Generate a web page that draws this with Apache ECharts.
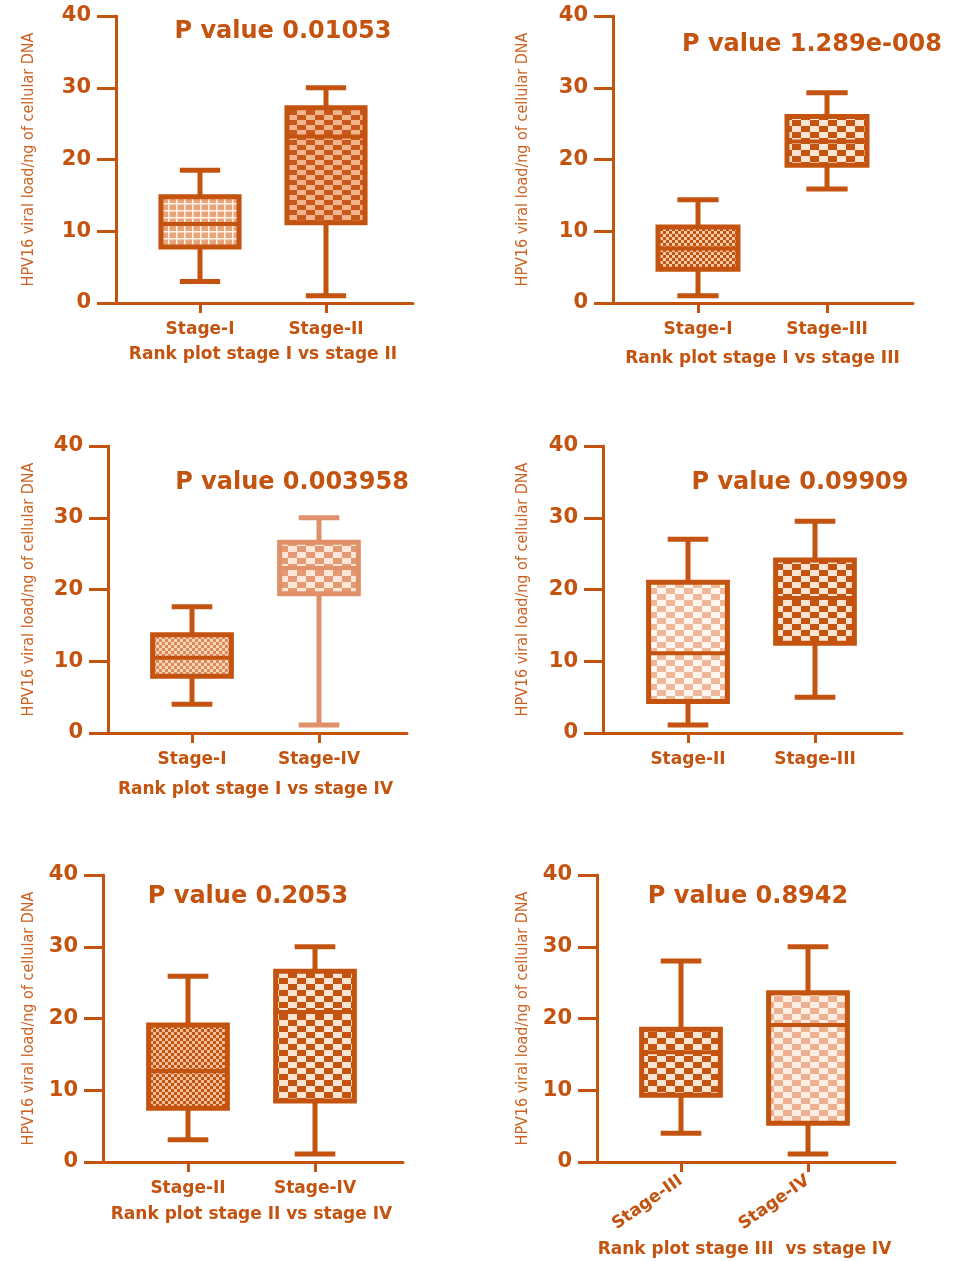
<!DOCTYPE html>
<html>
<head>
<meta charset="utf-8">
<script src="https://cdn.jsdelivr.net/npm/echarts@6/dist/echarts.min.js"></script>
<style>
html,body{margin:0;padding:0;background:#fff;}
#chart{width:958px;height:1261px;}
</style>
</head>
<body>
<div id="chart"></div>
<script>
// ---------- DATA (min, Q1, median, Q3, max) ----------
const titles = ['P value 0.01053', 'P value 1.289e-008', 'P value 0.003958', 'P value 0.09909', 'P value 0.2053', 'P value 0.8942'];
const xAxisNames = ['Rank plot stage I vs stage II', 'Rank plot stage I vs stage III', 'Rank plot stage I vs stage IV', '', 'Rank plot stage II vs stage IV', 'Rank plot stage III  vs stage IV'];
const yAxisName = 'HPV16 viral load/ng of cellular DNA';
const yTicks = [0, 10, 20, 30, 40];

const cats1 = ['Stage-I', 'Stage-II'];
const cats2 = ['Stage-I', 'Stage-III'];
const cats3 = ['Stage-I', 'Stage-IV'];
const cats4 = ['Stage-II', 'Stage-III'];
const cats5 = ['Stage-II', 'Stage-IV'];
const cats6 = ['Stage-III', 'Stage-IV'];

const p1StageI   = [3.0, 7.8, 11.0, 14.8, 18.5];
const p1StageII  = [1.0, 11.2, 23.2, 27.2, 30.0];
const p2StageI   = [1.0, 4.7, 7.6, 10.6, 14.4];
const p2StageIII = [15.9, 19.2, 22.5, 26.0, 29.3];
const p3StageI   = [4.0, 7.9, 10.5, 13.7, 17.6];
const p3StageIV  = [1.1, 19.4, 23.0, 26.6, 30.0];
const p4StageII  = [1.1, 4.4, 11.1, 21.0, 27.0];
const p4StageIII = [5.0, 12.5, 18.8, 24.1, 29.5];
const p5StageII  = [3.1, 7.5, 12.7, 19.1, 25.9];
const p5StageIV  = [1.1, 8.5, 20.9, 26.6, 30.0];
const p6StageIII = [4.0, 9.3, 15.3, 18.5, 28.0];
const p6StageIV  = [1.1, 5.4, 19.1, 23.6, 30.0];

// ---------- STYLE ----------
const MAIN = '#C4530F';
const LIGHT = '#E0916A';
const FONT = "'DejaVu Sans', sans-serif";
const NARROW = "'Liberation Sans Narrow', 'DejaVu Sans Condensed', 'Liberation Sans', sans-serif";

function checker(w, h, a, b) {
  const c = document.createElement('canvas');
  c.width = 2 * w; c.height = 2 * h;
  const g = c.getContext('2d');
  g.fillStyle = b; g.fillRect(0, 0, 2 * w, 2 * h);
  g.fillStyle = a; g.fillRect(0, 0, w, h); g.fillRect(w, h, w, h);
  return { image: c, repeat: 'repeat' };
}
function plaid(w, h, base, line) {
  const c = document.createElement('canvas');
  c.width = w; c.height = h;
  const g = c.getContext('2d');
  g.fillStyle = base; g.fillRect(0, 0, w, h);
  g.fillStyle = line; g.fillRect(0, 0, w, 1.5); g.fillRect(0, 0, 1.5, h);
  return { image: c, repeat: 'repeat' };
}

// panel layout: y-axis x, top (40), bottom (0), right end of x axis, centre of category 1 and 2
const panels = [
  { ax: 116, top: 16,  bottom: 303,  right: 413, c1: 200, c2: 326, tx: 283, ty: 32,  nameGap: 43, yGap: 79, rot: 0 },
  { ax: 613, top: 16,  bottom: 303,  right: 913, c1: 698, c2: 827, tx: 812, ty: 45,  nameGap: 47, yGap: 82, rot: 0 },
  { ax: 108, top: 446, bottom: 733,  right: 407, c1: 192, c2: 319, tx: 292, ty: 483, nameGap: 48, yGap: 71, rot: 0 },
  { ax: 603, top: 446, bottom: 733,  right: 902, c1: 688, c2: 815, tx: 800, ty: 483, nameGap: 48, yGap: 72, rot: 0 },
  { ax: 103, top: 875, bottom: 1162, right: 403, c1: 188, c2: 315, tx: 248, ty: 897, nameGap: 44, yGap: 66, rot: 0 },
  { ax: 597, top: 875, bottom: 1162, right: 895, c1: 681, c2: 808, tx: 748, ty: 897, nameGap: 79, yGap: 66, rot: 35 }
];
const panelCats = [cats1, cats2, cats3, cats4, cats5, cats6];
const panelData = [
  [p1StageI, p1StageII], [p2StageI, p2StageIII], [p3StageI, p3StageIV],
  [p4StageII, p4StageIII], [p5StageII, p5StageIV], [p6StageIII, p6StageIV]
];
const DARKCHK = () => checker(9, 6, MAIN, '#FCE4D2');
const boxStyles = [
  [{ fill: plaid(8, 7, '#E9A47A', '#FFF3EA'), stroke: MAIN }, { fill: checker(9, 5, '#C9581D', '#F3B48C'), stroke: MAIN }],
  [{ fill: checker(3, 3, MAIN, '#F6C9A6'), stroke: MAIN }, { fill: DARKCHK(), stroke: MAIN }],
  [{ fill: checker(3, 3, '#DA8A58', '#F7D3B8'), stroke: MAIN }, { fill: checker(9, 6, '#E39A72', '#FBE6D8'), stroke: LIGHT }],
  [{ fill: checker(9, 6, '#EFB899', '#FFF6F0'), stroke: MAIN }, { fill: DARKCHK(), stroke: MAIN }],
  [{ fill: checker(3, 3, MAIN, '#F3BE9B'), stroke: MAIN }, { fill: DARKCHK(), stroke: MAIN }],
  [{ fill: DARKCHK(), stroke: MAIN }, { fill: checker(9, 6, '#EDB090', '#FDEEE4'), stroke: MAIN }]
];

function makeRender(styles) {
  return function (params, api) {
    const idx = api.value(0);
    const pMin = api.coord([idx, api.value(1)]);
    const pQ1 = api.coord([idx, api.value(2)]);
    const pMed = api.coord([idx, api.value(3)]);
    const pQ3 = api.coord([idx, api.value(4)]);
    const pMax = api.coord([idx, api.value(5)]);
    const band = api.size([1, 0])[0];
    const hb = band * 0.31, hc = band * 0.16;
    const x = pMin[0];
    const st = styles[params.dataIndex];
    const ls = { stroke: st.stroke, lineWidth: 5 };
    return {
      type: 'group',
      children: [
        { type: 'line', shape: { x1: x, y1: pMin[1], x2: x, y2: pQ1[1] }, style: ls },
        { type: 'line', shape: { x1: x, y1: pQ3[1], x2: x, y2: pMax[1] }, style: ls },
        { type: 'line', shape: { x1: x - hc, y1: pMin[1], x2: x + hc, y2: pMin[1] }, style: ls },
        { type: 'line', shape: { x1: x - hc, y1: pMax[1], x2: x + hc, y2: pMax[1] }, style: ls },
        { type: 'rect', shape: { x: x - hb, y: pQ3[1], width: 2 * hb, height: pQ1[1] - pQ3[1] },
          style: { fill: st.fill, stroke: st.stroke, lineWidth: 5 } },
        { type: 'line', shape: { x1: x - hb, y1: pMed[1], x2: x + hb, y2: pMed[1] }, style: { stroke: st.stroke, lineWidth: 4 } }
      ]
    };
  };
}

const grid = [], xAxis = [], yAxis = [], series = [], title = [];
panels.forEach((p, i) => {
  const d = p.c2 - p.c1;
  // outer grid: axis frame
  grid.push({ left: p.ax, top: p.top, width: p.right - p.ax, height: p.bottom - p.top });
  // inner grid: categories
  grid.push({ left: p.c1 - d / 2, top: p.top, width: 2 * d, height: p.bottom - p.top });
  xAxis.push({
    gridIndex: 2 * i, type: 'value', min: 0, max: 1,
    axisLine: { show: true, lineStyle: { color: MAIN, width: 3 } },
    axisTick: { show: false }, axisLabel: { show: false }, splitLine: { show: false }
  });
  yAxis.push({
    gridIndex: 2 * i, type: 'value', min: yTicks[0], max: yTicks[yTicks.length - 1], interval: 10,
    axisLine: { show: true, lineStyle: { color: MAIN, width: 3 } },
    axisTick: { show: true, length: 19, lineStyle: { color: MAIN, width: 3 } },
    axisLabel: { color: MAIN, fontFamily: FONT, fontWeight: 'bold', fontSize: 21, margin: 25 },
    splitLine: { show: false },
    name: yAxisName, nameLocation: 'middle', nameRotate: 90, nameGap: p.yGap,
    nameTextStyle: { color: '#CC6222', fontFamily: NARROW, fontSize: 16 }
  });
  xAxis.push({
    gridIndex: 2 * i + 1, type: 'category', data: panelCats[i],
    axisLine: { show: false },
    axisTick: { show: true, alignWithLabel: true, length: 10, lineStyle: { color: MAIN, width: 3 } },
    axisLabel: { color: MAIN, fontFamily: FONT, fontWeight: 'bold', fontSize: 17, margin: p.rot ? 17 : 18, rotate: p.rot },
    name: xAxisNames[i], nameLocation: 'middle', nameGap: p.nameGap,
    nameTextStyle: { color: MAIN, fontFamily: FONT, fontWeight: 'bold', fontSize: 17 }
  });
  yAxis.push({ gridIndex: 2 * i + 1, type: 'value', min: 0, max: 40, show: false });
  series.push({
    type: 'custom', xAxisIndex: 2 * i + 1, yAxisIndex: 2 * i + 1,
    renderItem: makeRender(boxStyles[i]), clip: false,
    encode: { x: 0, y: [1, 2, 3, 4, 5] },
    data: panelData[i].map((v, k) => [k].concat(v))
  });
  title.push({
    text: titles[i], left: p.tx, top: p.ty, textAlign: 'center', textVerticalAlign: 'middle', padding: 0,
    textStyle: { color: MAIN, fontFamily: FONT, fontWeight: 'bold', fontSize: 24 }
  });
});

const chart = echarts.init(document.getElementById('chart'), null, { renderer: 'canvas' });
chart.setOption({ animation: false, backgroundColor: '#fff', title, grid, xAxis, yAxis, series });
</script>
</body>
</html>
